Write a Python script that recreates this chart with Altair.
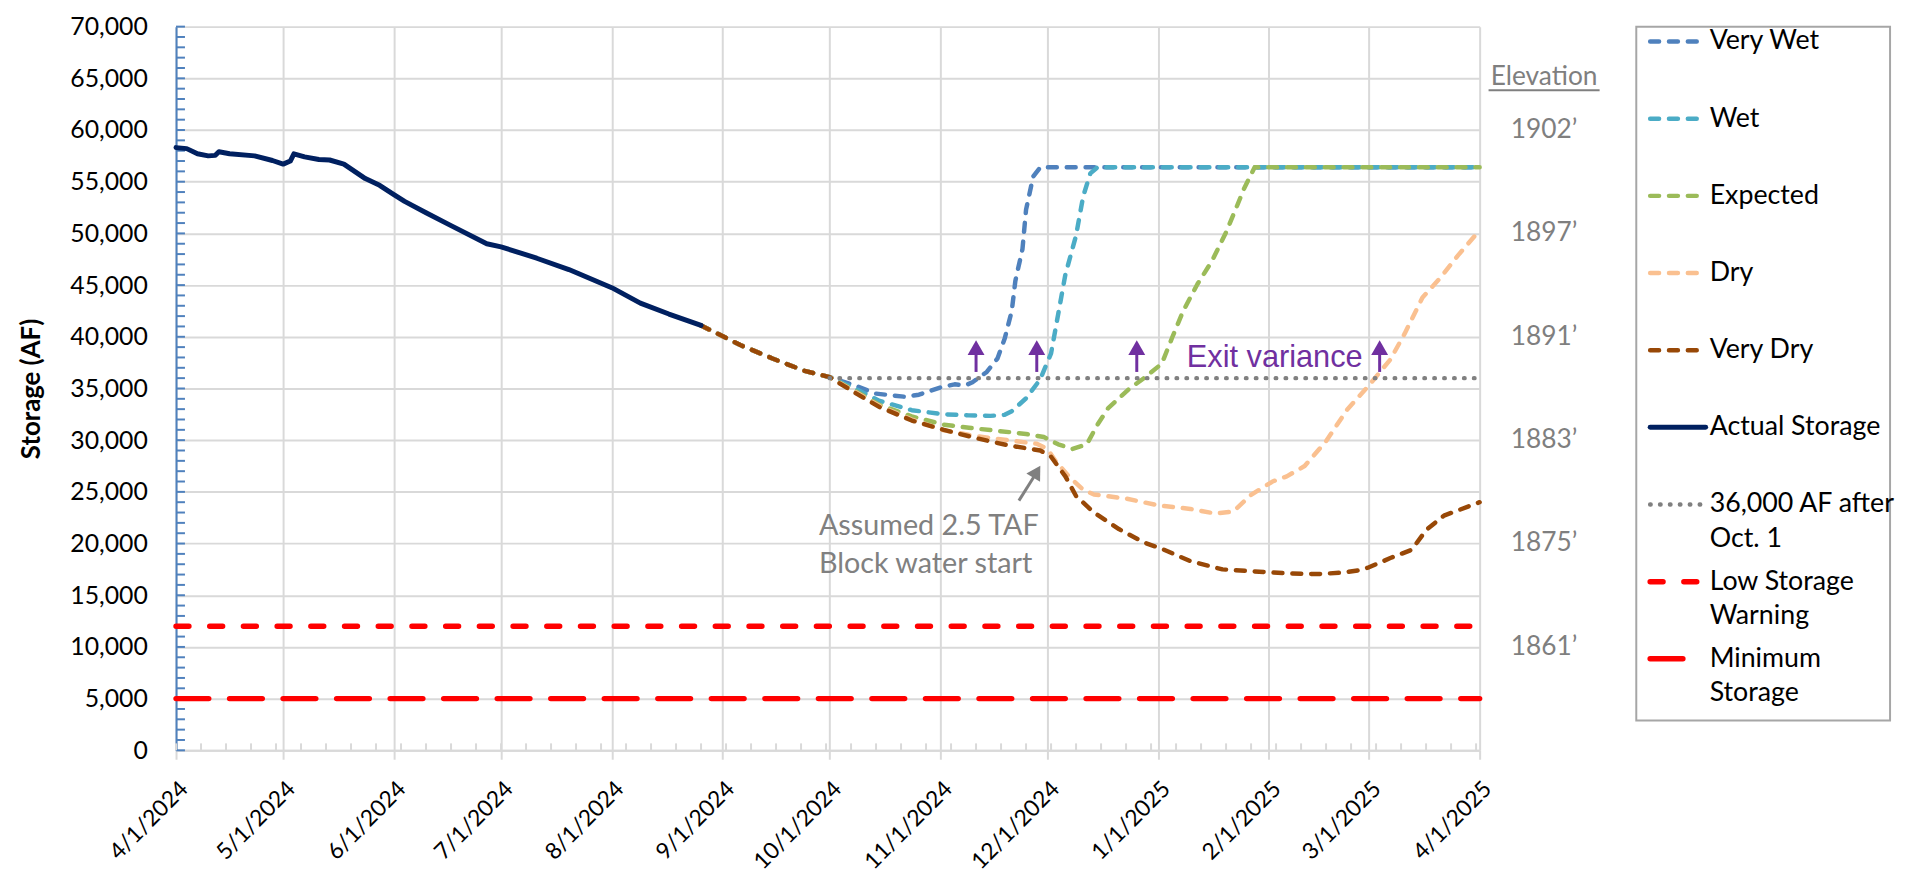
import altair as alt
import pandas as pd
from datetime import datetime, timezone

FONT = "Lato"

def ms(s):
    return int(datetime.strptime(s, "%Y-%m-%d").replace(tzinfo=timezone.utc).timestamp() * 1000)

# ---------------- data ----------------
actual_dates = ["2024-04-01", "2024-04-04", "2024-04-07", "2024-04-10", "2024-04-12", "2024-04-13",
                "2024-04-16", "2024-04-23", "2024-04-28", "2024-05-01", "2024-05-03", "2024-05-04",
                "2024-05-07", "2024-05-11", "2024-05-14", "2024-05-18", "2024-05-24", "2024-05-28",
                "2024-06-01", "2024-06-04", "2024-06-10", "2024-06-17", "2024-06-27", "2024-07-01",
                "2024-07-11", "2024-07-20", "2024-08-01", "2024-08-09", "2024-08-17", "2024-08-26"]
actual_vals = [58300, 58200, 57700, 57500, 57550, 57900, 57700, 57500, 57050, 56700, 57000, 57700,
               57400, 57150, 57100, 56700, 55300, 54650, 53750, 53100, 52000, 50750, 49000, 48700,
               47600, 46500, 44750, 43250, 42200, 41100]

shared_dates = ["2024-08-26", "2024-09-06", "2024-09-15", "2024-09-24", "2024-10-01"]
shared_vals = [41100, 39200, 37900, 36700, 36100]

vw_dates = ["2024-10-08", "2024-10-14", "2024-10-22", "2024-10-26", "2024-11-01", "2024-11-05",
            "2024-11-08", "2024-11-10", "2024-11-14", "2024-11-17", "2024-11-19", "2024-11-21",
            "2024-11-22", "2024-11-24", "2024-11-25", "2024-11-27", "2024-11-29", "2025-04-01"]
vw_vals = [35300, 34500, 34200, 34400, 35100, 35400, 35300, 35600, 36600, 37900, 39800, 42500,
           45400, 48500, 52300, 55500, 56400, 56400]

w_dates = ["2024-10-08", "2024-10-15", "2024-10-24", "2024-11-02", "2024-11-09", "2024-11-15",
           "2024-11-19", "2024-11-21", "2024-11-25", "2024-11-29", "2024-12-02", "2024-12-04",
           "2024-12-06", "2024-12-09", "2024-12-11", "2024-12-13", "2024-12-15", "2025-04-01"]
w_vals = [35000, 33800, 32900, 32500, 32400, 32350, 32450, 32800, 34050, 35900, 38400, 42200,
          46000, 49800, 53600, 55800, 56400, 56400]

e_dates = ["2024-10-08", "2024-10-15", "2024-10-24", "2024-11-02", "2024-11-09", "2024-11-17",
           "2024-11-25", "2024-11-30", "2024-12-04", "2024-12-08", "2024-12-12", "2024-12-15",
           "2024-12-18", "2024-12-24", "2024-12-28", "2025-01-02", "2025-01-05", "2025-01-08",
           "2025-01-12", "2025-01-16", "2025-01-20", "2025-01-23", "2025-01-25", "2025-01-28",
           "2025-04-01"]
e_vals = [34800, 33400, 32300, 31500, 31200, 30900, 30600, 30300, 29600, 29150, 29600, 31500,
          33100, 35000, 36000, 37400, 40000, 42500, 45100, 47300, 50100, 52600, 54300, 56400, 56400]

d_dates = ["2024-10-08", "2024-10-15", "2024-10-24", "2024-11-02", "2024-11-11", "2024-11-21",
           "2024-11-28", "2024-12-01", "2024-12-03", "2024-12-07", "2024-12-11", "2024-12-14",
           "2024-12-23", "2025-01-01", "2025-01-10", "2025-01-17", "2025-01-22", "2025-01-27",
           "2025-02-02", "2025-02-06", "2025-02-11", "2025-02-17", "2025-02-23", "2025-03-01",
           "2025-03-07", "2025-03-11", "2025-03-16", "2025-03-21", "2025-03-26", "2025-04-01"]
d_vals = [34700, 33300, 32000, 30950, 30400, 29950, 29650, 29150, 28100, 26500, 25200, 24750,
          24350, 23700, 23350, 22900, 23100, 24700, 26000, 26500, 27500, 29900, 33000, 35300,
          37800, 40300, 43800, 45700, 47900, 50300]

vd_dates = ["2024-10-08", "2024-10-15", "2024-10-24", "2024-11-02", "2024-11-11", "2024-11-20",
            "2024-11-29", "2024-12-02", "2024-12-06", "2024-12-09", "2024-12-14", "2024-12-21",
            "2024-12-28", "2025-01-02", "2025-01-10", "2025-01-19", "2025-01-28", "2025-02-07",
            "2025-02-15", "2025-02-22", "2025-02-26", "2025-03-01", "2025-03-07", "2025-03-13",
            "2025-03-17", "2025-03-22", "2025-04-01"]
vd_vals = [34600, 33200, 31900, 31000, 30200, 29500, 29000, 28400, 26500, 24600, 23000, 21400,
           20100, 19500, 18300, 17500, 17300, 17100, 17050, 17200, 17400, 17700, 18600, 19400,
           21300, 22700, 24000]

variance_dates = ["2024-10-01", "2025-04-01"]
variance_vals = [36000, 36000]
low_dates = ["2024-04-01", "2025-04-01"]
low_vals = [12000, 12000]
min_dates = ["2024-04-01", "2025-04-01"]
min_vals = [5000, 5000]

series_names = ["Very Wet", "Wet", "Expected", "Dry", "Very Dry", "Actual Storage",
                "36,000 AF after Oct. 1", "Low Storage Warning", "Minimum Storage"]
legend_line1 = ["Very Wet", "Wet", "Expected", "Dry", "Very Dry", "Actual Storage",
                "36,000 AF after", "Low Storage", "Minimum"]
legend_line2 = ["", "", "", "", "", "", "Oct. 1", "Warning", "Storage"]

elev_vals = [60000, 50000, 40000, 30000, 20000, 10000]
elev_labels = ["1902\u2019", "1897\u2019", "1891\u2019", "1883\u2019", "1875\u2019", "1861\u2019"]

arrow_dates = ["2024-11-11", "2024-11-28", "2024-12-26", "2025-03-04"]
arrow_base = 36600
arrow_top = 38600
arrow_head = 38950

month_ticks = ["2024-04-01", "2024-05-01", "2024-06-01", "2024-07-01", "2024-08-01", "2024-09-01",
               "2024-10-01", "2024-11-01", "2024-12-01", "2025-01-01", "2025-02-01", "2025-03-01",
               "2025-04-01"]

# ---------------- styles ----------------
STY = {
    "Very Wet": dict(color="#4F81BD", strokeDash=[9, 10], strokeWidth=4.5),
    "Wet": dict(color="#4BACC6", strokeDash=[9, 10], strokeWidth=4.5),
    "Expected": dict(color="#9BBB59", strokeDash=[9, 10], strokeWidth=4.5),
    "Dry": dict(color="#FAC090", strokeDash=[9, 10], strokeWidth=4.5),
    "Very Dry": dict(color="#984807", strokeDash=[9, 10], strokeWidth=4.5),
    "Actual Storage": dict(color="#002060", strokeWidth=5),
    "36,000 AF after Oct. 1": dict(color="#808080", strokeDash=[0.5, 9.5], strokeWidth=4.5),
    "Low Storage Warning": dict(color="#FF0000", strokeDash=[13, 21], strokeWidth=5.5),
    "Minimum Storage": dict(color="#FF0000", strokeDash=[33, 21], strokeWidth=5.5),
}

W, H = 1315, 730

x_enc = alt.X("date:T", title=None,
              scale=alt.Scale(type="utc", domain=[ms("2024-04-01"), ms("2025-04-01")], nice=False),
              axis=alt.Axis(values=[ms(d) for d in month_ticks],
                            labelExpr="utcFormat(datum.value, '%-m/%-d/%Y')",
                            labelAngle=-45, labelAlign="right", labelBaseline="middle",
                            labelFontSize=23, labelColor="#000000", labelPadding=26, labelOffset=8,
                            labelFlush=False, labelOverlap=False, labelFont=FONT,
                            tickSize=9, tickColor="#D9D9D9", tickWidth=2,
                            domainColor="#D9D9D9", domainWidth=2,
                            grid=True, gridColor="#D9D9D9", gridWidth=2))
y_enc = alt.Y("value:Q", title="Storage (AF)",
              scale=alt.Scale(domain=[0, 70000], nice=False),
              axis=alt.Axis(values=list(range(0, 70001, 5000)), format=",d",
                            labelFontSize=25, labelColor="#000000", labelPadding=29, labelFont=FONT,
                            ticks=False, domainColor="#4F81BD", domainWidth=2,
                            grid=True, gridColor="#D9D9D9", gridWidth=2,
                            titleFontSize=26, titleFontWeight="bold", titleColor="#000000",
                            titlePadding=26, titleFont=FONT))


def frame(dates, vals):
    return pd.DataFrame({"date": dates, "value": vals})


series_data = {
    "Very Wet": frame(shared_dates + vw_dates, shared_vals + vw_vals),
    "Wet": frame(shared_dates + w_dates, shared_vals + w_vals),
    "Expected": frame(shared_dates + e_dates, shared_vals + e_vals),
    "Dry": frame(shared_dates + d_dates, shared_vals + d_vals),
    "Very Dry": frame(shared_dates + vd_dates, shared_vals + vd_vals),
    "Actual Storage": frame(actual_dates, actual_vals),
    "36,000 AF after Oct. 1": frame(variance_dates, variance_vals),
    "Low Storage Warning": frame(low_dates, low_vals),
    "Minimum Storage": frame(min_dates, min_vals),
}

layers = []

# minor ticks on y axis (inside)
ytick_df = pd.DataFrame({"value": list(range(0, 70001, 1000))})
layers.append(alt.Chart(ytick_df).mark_rule(color="#4F81BD", strokeWidth=2).encode(
    y=y_enc, x=alt.value(0), x2=alt.value(9)))

# weekly minor ticks on x axis (inside)
week_dates = [d.strftime("%Y-%m-%d") for d in pd.date_range("2024-04-01", "2025-04-01", freq="7D")]
xtick_df = pd.DataFrame({"date": week_dates})
layers.append(alt.Chart(xtick_df).mark_rule(color="#D9D9D9", strokeWidth=2).encode(
    x=x_enc, y=alt.value(H), y2=alt.value(H - 7)))

for name in series_names:
    s = STY[name]
    kw = dict(color=s["color"], strokeWidth=s["strokeWidth"], strokeCap="round", strokeJoin="round")
    if "strokeDash" in s:
        kw["strokeDash"] = s["strokeDash"]
    layers.append(alt.Chart(series_data[name]).mark_line(**kw).encode(x=x_enc, y=y_enc))

# purple "exit variance" arrows
arr_df = pd.DataFrame({"date": arrow_dates, "value": [arrow_base] * 4, "value2": [arrow_top] * 4})
layers.append(alt.Chart(arr_df).mark_rule(color="#7030A0", strokeWidth=3).encode(
    x=x_enc, y=y_enc, y2=alt.Y2("value2:Q")))
head_df = pd.DataFrame({"date": arrow_dates, "value": [arrow_head] * 4})
layers.append(alt.Chart(head_df).mark_point(shape="triangle-up", filled=True, size=290,
                                            color="#7030A0", opacity=1).encode(x=x_enc, y=y_enc))

exit_df = pd.DataFrame({"date": ["2025-01-09"], "value": [37070], "label": ["Exit variance"]})
layers.append(alt.Chart(exit_df).mark_text(font="Liberation Sans", fontSize=31, color="#7030A0",
                                           align="left", baseline="alphabetic").encode(
    x=x_enc, y=y_enc, text="label:N"))

# gray annotation arrow
g_df = pd.DataFrame({"date": ["2024-11-23"], "value": [24150], "date2": ["2024-11-28"], "value2": [26900]})
layers.append(alt.Chart(g_df).mark_rule(color="#808080", strokeWidth=3).encode(
    x=x_enc, y=y_enc, x2=alt.X2("date2:T"), y2=alt.Y2("value2:Q")))
gh_df = pd.DataFrame({"date": ["2024-11-28"], "value": [26940]})
layers.append(alt.Chart(gh_df).mark_point(shape="triangle-up", filled=True, size=260, angle=31,
                                          color="#808080", opacity=1).encode(x=x_enc, y=y_enc))

ann_df = pd.DataFrame({"date": ["2024-09-28", "2024-09-28"], "value": [20860, 17160],
                       "label": ["Assumed 2.5 TAF", "Block water start"]})
layers.append(alt.Chart(ann_df).mark_text(font=FONT, fontSize=29, color="#808080",
                                          align="left", baseline="alphabetic").encode(
    x=x_enc, y=y_enc, text="label:N"))

# elevation labels on the right
elev_df = pd.DataFrame({"date": ["2025-04-01"] * 6, "value": elev_vals, "label": elev_labels})
layers.append(alt.Chart(elev_df).mark_text(font=FONT, fontSize=26.5, color="#7F7F7F", align="center",
                                           baseline="middle", dx=65).encode(
    x=x_enc, y=y_enc, text="label:N"))
etitle_df = pd.DataFrame({"date": ["2025-04-01"], "value": [65100], "label": ["Elevation"]})
layers.append(alt.Chart(etitle_df).mark_text(font=FONT, fontSize=26.5, color="#7F7F7F", align="center",
                                             baseline="middle", dx=65).encode(
    x=x_enc, y=y_enc, text="label:N"))
eline_df = pd.DataFrame({"date": ["2025-04-01"], "value": [63850], "date2": ["2025-04-01"]})
layers.append(alt.Chart(eline_df).mark_rule(color="#7F7F7F", strokeWidth=2, xOffset=9, x2Offset=121).encode(
    x=x_enc, y=y_enc, x2=alt.X2("date2:T")))

main = alt.layer(*layers).properties(width=W, height=H,
                                     view=alt.ViewBackground(stroke="transparent"))

# ---------------- legend panel ----------------
leg_df = pd.DataFrame({"idx": list(range(len(series_names))), "name": series_names,
                       "line1": legend_line1, "line2": legend_line2})
ly = alt.Y("idx:Q", scale=alt.Scale(domain=[-0.193, 8.80], reverse=True, nice=False, zero=False),
           axis=None)
leg_layers = []
for i, name in enumerate(series_names):
    s = STY[name]
    kw = dict(color=s["color"], strokeWidth=s["strokeWidth"], strokeCap="round")
    if "strokeDash" in s:
        kw["strokeDash"] = s["strokeDash"]
    x2 = 53 if name == "Minimum Storage" else (70 if name == "Actual Storage" else 68)
    leg_layers.append(alt.Chart(leg_df).transform_filter(alt.datum.idx == i).mark_rule(**kw).encode(
        y=ly, x=alt.value(14), x2=alt.value(x2)))
leg_layers.append(alt.Chart(leg_df).mark_text(font=FONT, fontSize=27, color="#000000", align="left",
                                              baseline="middle").encode(
    y=ly, x=alt.value(74), text="line1:N"))
leg_layers.append(alt.Chart(leg_df).mark_text(font=FONT, fontSize=27, color="#000000", align="left",
                                              baseline="middle", dy=35).encode(
    y=ly, x=alt.value(74), text="line2:N"))
legend = alt.layer(*leg_layers).properties(width=256, height=700,
                                           view=alt.ViewBackground(stroke="#A6A6A6", strokeWidth=2))

chart = alt.hconcat(main, legend, spacing=34).properties(
    padding={"left": 9.5, "top": 2, "right": 0, "bottom": 0},
    background="white",
).configure(font=FONT)

chart.save("out.html", embed_options={"renderer": "svg", "actions": False})
